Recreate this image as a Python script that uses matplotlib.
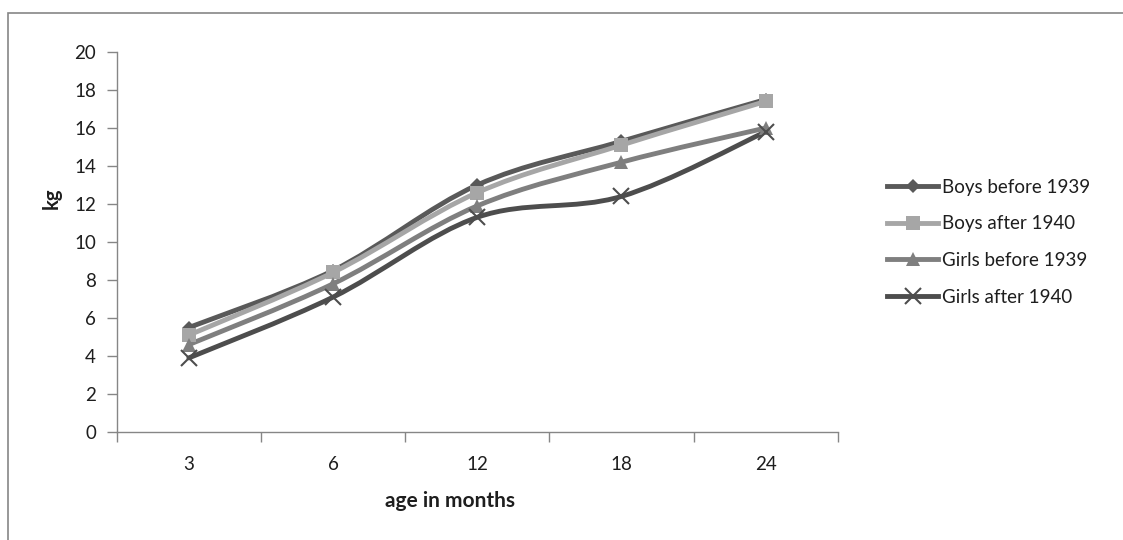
import numpy as np
import matplotlib.pyplot as plt
from matplotlib.path import Path
from matplotlib.patches import PathPatch, Rectangle
from matplotlib.lines import Line2D

plt.rcParams['font.family'] = ['Lato', 'DejaVu Sans']

# weight (kg) by age
ages = ['3', '6', '12', '18', '24']
boys_before_1939 = [5.5, 8.5, 13.0, 15.3, 17.5]
boys_after_1940 = [5.1, 8.4, 12.6, 15.1, 17.4]
girls_before_1939 = [4.6, 7.8, 11.9, 14.2, 16.0]
girls_after_1940 = [3.9, 7.1, 11.3, 12.4, 15.8]

series = [
    ('Boys before 1939', boys_before_1939, '#595959', 'D', 7),
    ('Boys after 1940', boys_after_1940, '#a6a6a6', 's', 10),
    ('Girls before 1939', girls_before_1939, '#7f7f7f', '^', 10),
    ('Girls after 1940', girls_after_1940, '#4d4d4d', 'x', 11),
]

FS = 13.5
TXT = '#1e1e1e'


def smooth_path(xs, ys):
    # Catmull-Rom style bezier through the points (like Excel "smoothed line")
    pts = np.column_stack([xs, ys]).astype(float)
    n = len(pts)
    verts = [pts[0]]
    codes = [Path.MOVETO]
    for i in range(n - 1):
        p0 = pts[max(i - 1, 0)]
        p1 = pts[i]
        p2 = pts[i + 1]
        p3 = pts[min(i + 2, n - 1)]
        c1 = p1 + (p2 - p0) / 6.0
        c2 = p2 - (p3 - p1) / 6.0
        verts += [c1, c2, p2]
        codes += [Path.CURVE4] * 3
    return Path(verts, codes)


fig = plt.figure(figsize=(11.23, 5.40), dpi=100)
ax = fig.add_axes([0.104, 0.2, 0.642, 0.7037])

x = np.arange(len(ages))
handles = []
for label, vals, color, marker, ms in series:
    ax.add_patch(PathPatch(smooth_path(x, vals), facecolor='none',
                           edgecolor=color, lw=3.5, capstyle='round', zorder=2))
    mew = 1.5 if marker == 'x' else 0
    ax.plot(x, vals, linestyle='none', marker=marker, markersize=ms,
            color=color, markeredgewidth=mew, zorder=3)
    handles.append(Line2D([], [], color=color, lw=3.5, marker=marker,
                          markersize=ms, markeredgewidth=mew, label=label))

ax.set_xlim(-0.5, len(ages) - 0.5)
ax.set_ylim(0, 20)
ax.set_yticks(range(0, 21, 2))
ax.set_xticks(np.arange(-0.5, len(ages), 1.0))
ax.set_xticklabels([])
ax.set_xticks(x, minor=True)
ax.set_xticklabels(ages, minor=True)
ax.tick_params(axis='both', which='major', length=7, width=1, color='#868686',
               labelsize=FS, labelcolor=TXT)
ax.tick_params(axis='y', which='major', pad=8)
ax.tick_params(axis='x', which='minor', length=0, pad=17,
               labelsize=FS, labelcolor=TXT)

for side in ['top', 'right']:
    ax.spines[side].set_visible(False)
for side in ['left', 'bottom']:
    ax.spines[side].set_color('#868686')
    ax.spines[side].set_linewidth(1)

fig.text(0.046, 0.633, 'kg', rotation=90, ha='center', va='center',
         fontsize=14.5, fontweight='bold', color=TXT)
fig.text(0.401, 0.073, 'age in months', ha='center', va='center',
         fontsize=15, fontweight='bold', color=TXT)

fig.legend(handles=handles, loc='upper left', bbox_to_anchor=(0.783, 0.683),
           frameon=False, fontsize=FS, handlelength=2.75, handletextpad=0.2,
           labelspacing=1.05, borderaxespad=0, labelcolor=TXT)

# outer chart border
fig.add_artist(Rectangle((8 / 1123, -0.1), 1.2, 1 - 13 / 540 + 0.1,
                         transform=fig.transFigure, fill=False,
                         edgecolor='#868686', lw=1.2))

fig.savefig('out.png', dpi=100)
